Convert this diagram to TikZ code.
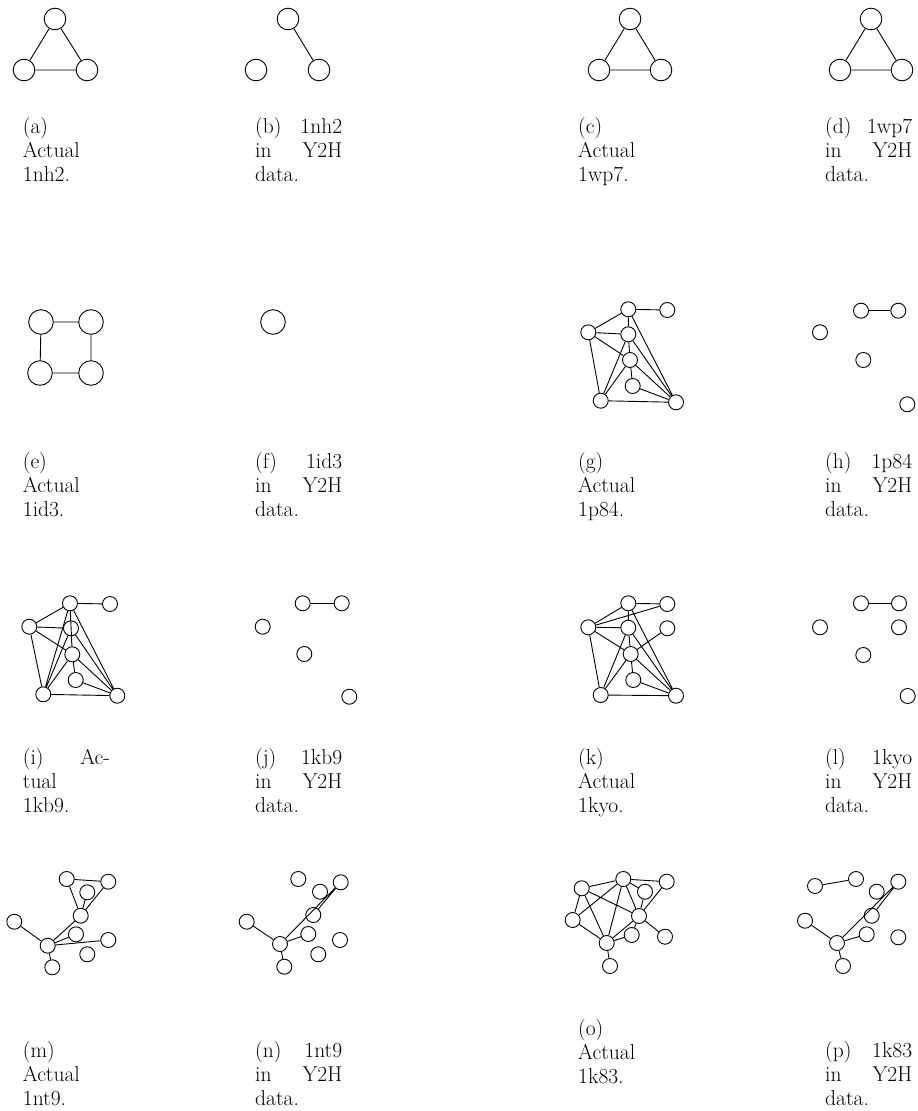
\documentclass[tikz,border=0pt]{standalone}
\begin{document}
\begin{tikzpicture}[x=1pt,y=-1pt,
  vbig/.style={circle,draw,line width=0.9pt,minimum size=21.6pt,inner sep=0pt},
  vmid/.style={circle,draw,line width=0.9pt,minimum size=24.6pt,inner sep=0pt},
  vsm/.style={circle,draw,line width=0.9pt,minimum size=15pt,inner sep=0pt},
  lnk/.style={line width=0.9pt},
  captxt/.style={anchor=base west,inner sep=0pt,font=\fontsize{21.5}{24}\selectfont}]
\useasboundingbox (0,0) rectangle (918,1111);
\newcommand{\jl}[2]{\hbox to 87pt{#1\hfill #2}}
% ---------- row 1 ----------
\node[vbig] (a1) at (55,19) {}; \node[vbig] (a2) at (24,70) {}; \node[vbig] (a3) at (87,70) {};
\draw[lnk] (a1)--(a2) (a1)--(a3) (a2)--(a3);
\node[vbig] (b1) at (288,19) {}; \node[vbig] (b2) at (256,70) {}; \node[vbig] (b3) at (319,70) {};
\draw[lnk] (b1)--(b3);
\node[vbig] (c1) at (630,19) {}; \node[vbig] (c2) at (599,70) {}; \node[vbig] (c3) at (661,70) {};
\draw[lnk] (c1)--(c2) (c1)--(c3) (c2)--(c3);
\node[vbig] (d1) at (871,19) {}; \node[vbig] (d2) at (840,70) {}; \node[vbig] (d3) at (902,70) {};
\draw[lnk] (d1)--(d2) (d1)--(d3) (d2)--(d3);
\node[captxt] (ta1) at (22.7,133) {(a)}; \node[captxt] (ta2) at (22.7,157) {Actual}; \node[captxt] (ta3) at (22.7,181) {1nh2.};
\node[captxt] (tb1) at (255,133) {\jl{(b)}{1nh2}}; \node[captxt] (tb2) at (255,157) {\jl{in}{Y2H}}; \node[captxt] (tb3) at (255,181) {data.};
\node[captxt] (tc1) at (578,133) {(c)}; \node[captxt] (tc2) at (578,157) {Actual}; \node[captxt] (tc3) at (578,181) {1wp7.};
\node[captxt] (td1) at (825,133) {\jl{(d)}{1wp7}}; \node[captxt] (td2) at (825,157) {\jl{in}{Y2H}}; \node[captxt] (td3) at (825,181) {data.};
% ---------- row 2 ----------
\node[vmid] (e1) at (41,322) {}; \node[vmid] (e2) at (91,322) {}; \node[vmid] (e3) at (40,373) {}; \node[vmid] (e4) at (91,373) {};
\draw[lnk] (e1)--(e2) (e2)--(e4) (e4)--(e3) (e3)--(e1);
\node[vmid] (f1) at (273,322) {};
\node[vsm] (gA) at (628.3,309.3) {}; \node[vsm] (gB) at (667.3,310) {}; \node[vsm] (gC) at (588.3,332.3) {};
\node[vsm] (gD) at (628.3,334.3) {}; \node[vsm] (gE) at (630,360) {}; \node[vsm] (gF) at (632.7,386) {};
\node[vsm] (gG) at (600.7,400.7) {}; \node[vsm] (gH) at (676,402.3) {};
\draw[lnk] (gA)--(gB) (gA)--(gC) (gA)--(gD) (gA)--(gH) (gC)--(gD) (gC)--(gE) (gC)--(gG)
  (gD)--(gE) (gD)--(gH) (gD)--(gG) (gE)--(gF) (gE)--(gG) (gE)--(gH) (gF)--(gH) (gG)--(gH);
\node[vsm] (h1) at (861,310.7) {}; \node[vsm] (h2) at (898.3,310.7) {}; \node[vsm] (h3) at (820,332.3) {};
\node[vsm] (h4) at (863.3,360) {}; \node[vsm] (h5) at (907.3,404.3) {};
\draw[lnk] (h1)--(h2);
\node[captxt] (te1) at (22.7,468) {(e)}; \node[captxt] (te2) at (22.7,492) {Actual}; \node[captxt] (te3) at (22.7,516) {1id3.};
\node[captxt] (tf1) at (255,468) {\jl{(f)}{1id3}}; \node[captxt] (tf2) at (255,492) {\jl{in}{Y2H}}; \node[captxt] (tf3) at (255,516) {data.};
\node[captxt] (tg1) at (578,468) {(g)}; \node[captxt] (tg2) at (578,492) {Actual}; \node[captxt] (tg3) at (578,516) {1p84.};
\node[captxt] (th1) at (825,468) {\jl{(h)}{1p84}}; \node[captxt] (th2) at (825,492) {\jl{in}{Y2H}}; \node[captxt] (th3) at (825,516) {data.};
% ---------- row 3 ----------
\node[vsm] (iA) at (70,603.3) {}; \node[vsm] (iB) at (110,604) {}; \node[vsm] (iC) at (29.3,626.7) {};
\node[vsm] (iD) at (71,628.3) {}; \node[vsm] (iE) at (72.3,654.3) {}; \node[vsm] (iF) at (75.7,680) {};
\node[vsm] (iG) at (43.3,694.3) {}; \node[vsm] (iH) at (117.3,695.7) {};
\draw[lnk] (iA)--(iB) (iA)--(iC) (iA)--(iD) (iA)--(iE) (iA)--(iG) (iA)--(iH) (iC)--(iD) (iC)--(iE) (iC)--(iG)
  (iD)--(iE) (iD)--(iH) (iD)--(iG) (iE)--(iF) (iE)--(iG) (iE)--(iH) (iF)--(iH) (iG)--(iH);
\node[vsm] (j1) at (302.7,603.3) {}; \node[vsm] (j2) at (341.7,603.3) {}; \node[vsm] (j3) at (262.7,626.7) {};
\node[vsm] (j4) at (304.3,654) {}; \node[vsm] (j5) at (349.3,696.7) {};
\draw[lnk] (j1)--(j2);
\node[vsm] (kA) at (628.3,603.3) {}; \node[vsm] (kB) at (667.3,604) {}; \node[vsm] (kC) at (588.3,627.3) {};
\node[vsm] (kD) at (628.3,627.7) {}; \node[vsm] (kI) at (667.3,628.3) {}; \node[vsm] (kE) at (630.7,654) {};
\node[vsm] (kF) at (633.3,680) {}; \node[vsm] (kG) at (600.7,695) {}; \node[vsm] (kH) at (676,695.7) {};
\draw[lnk] (kA)--(kB) (kC)--(kB) (kA)--(kC) (kA)--(kD) (kA)--(kH) (kC)--(kD) (kC)--(kE) (kC)--(kG)
  (kD)--(kE) (kD)--(kG) (kD)--(kH) (kE)--(kI) (kE)--(kG) (kE)--(kH) (kE)--(kF) (kF)--(kH) (kG)--(kH);
\node[vsm] (l1) at (861,603.3) {}; \node[vsm] (l2) at (899,603.3) {}; \node[vsm] (l3) at (820,627.3) {};
\node[vsm] (l4) at (899,627.3) {}; \node[vsm] (l5) at (863.3,655) {}; \node[vsm] (l6) at (907.7,696) {};
\draw[lnk] (l1)--(l2);
\node[captxt] (ti1) at (22.7,764) {\jl{(i)}{Ac-}}; \node[captxt] (ti2) at (22.7,788) {tual}; \node[captxt] (ti3) at (22.7,812) {1kb9.};
\node[captxt] (tj1) at (255,764) {\jl{(j)}{1kb9}}; \node[captxt] (tj2) at (255,788) {\jl{in}{Y2H}}; \node[captxt] (tj3) at (255,812) {data.};
\node[captxt] (tk1) at (578,764) {(k)}; \node[captxt] (tk2) at (578,788) {Actual}; \node[captxt] (tk3) at (578,812) {1kyo.};
\node[captxt] (tl1) at (825,764) {\jl{(l)}{1kyo}}; \node[captxt] (tl2) at (825,788) {\jl{in}{Y2H}}; \node[captxt] (tl3) at (825,812) {data.};
% ---------- row 4 ----------
\node[vsm] (m1) at (66.7,879) {}; \node[vsm] (m2) at (108.3,881.7) {}; \node[vsm] (m3) at (87.3,892.3) {};
\node[vsm] (m4) at (80.7,915.7) {}; \node[vsm] (m5) at (14.3,921.7) {}; \node[vsm] (m6) at (47.7,945.7) {};
\node[vsm] (m7) at (76,934.3) {}; \node[vsm] (m8) at (108.3,940) {}; \node[vsm] (m9) at (87.3,954.3) {};
\node[vsm] (m10) at (52.3,967.3) {};
\draw[lnk] (m1)--(m2) (m1)--(m4) (m2)--(m4) (m3)--(m4) (m4)--(m6) (m5)--(m6) (m6)--(m7)
  (m6)--(m8) (m6)--(m10);
\node[vsm] (n1) at (298.3,879) {}; \node[vsm] (n2) at (340.7,882.3) {}; \node[vsm] (n3) at (320,891.7) {};
\node[vsm] (n4) at (313.3,915) {}; \node[vsm] (n5) at (246.7,921.7) {}; \node[vsm] (n6) at (280,944) {};
\node[vsm] (n7) at (308.3,934) {}; \node[vsm] (n8) at (340,940) {}; \node[vsm] (n9) at (318.3,954.3) {};
\node[vsm] (n10) at (284.3,966.7) {};
\draw[lnk] (n2)--(n4) (n2)--(n6) (n5)--(n6) (n6)--(n7) (n6)--(n10);
\node[vsm] (o1) at (581.7,888.3) {}; \node[vsm] (o2) at (623.3,879) {}; \node[vsm] (o3) at (666.7,881.7) {};
\node[vsm] (o4) at (645,891.7) {}; \node[vsm] (o5) at (572.7,920) {}; \node[vsm] (o6) at (639,916) {};
\node[vsm] (o7) at (631.7,935) {}; \node[vsm] (o8) at (665,936.7) {}; \node[vsm] (o9) at (606.7,943) {};
\node[vsm] (o10) at (610,966) {};
\draw[lnk] (o1)--(o2) (o2)--(o3) (o1)--(o5) (o1)--(o9) (o1)--(o6) (o2)--(o5) (o2)--(o9) (o2)--(o6)
  (o2)--(o4) (o3)--(o6) (o4)--(o6) (o5)--(o9) (o6)--(o9) (o6)--(o8) (o7)--(o9) (o6)--(o7) (o9)--(o10);
\node[vsm] (p1) at (815,886) {}; \node[vsm] (p2) at (856,879) {}; \node[vsm] (p3) at (876.7,891.7) {};
\node[vsm] (p4) at (898.3,881.7) {}; \node[vsm] (p5) at (805,920.7) {}; \node[vsm] (p6) at (871.7,915.7) {};
\node[vsm] (p7) at (866.7,934.3) {}; \node[vsm] (p8) at (898.3,937.3) {}; \node[vsm] (p9) at (837,943) {};
\node[vsm] (p10) at (843,966) {};
\draw[lnk] (p1)--(p2) (p4)--(p6) (p4)--(p9) (p5)--(p9) (p9)--(p7) (p9)--(p10);
\node[captxt] (tm1) at (22.7,1057) {(m)}; \node[captxt] (tm2) at (22.7,1081) {Actual}; \node[captxt] (tm3) at (22.7,1105) {1nt9.};
\node[captxt] (tn1) at (255,1057) {\jl{(n)}{1nt9}}; \node[captxt] (tn2) at (255,1081) {\jl{in}{Y2H}}; \node[captxt] (tn3) at (255,1105) {data.};
\node[captxt] (to1) at (578,1035) {(o)}; \node[captxt] (to2) at (578,1059) {Actual}; \node[captxt] (to3) at (578,1083) {1k83.};
\node[captxt] (tp1) at (825,1057) {\jl{(p)}{1k83}}; \node[captxt] (tp2) at (825,1081) {\jl{in}{Y2H}}; \node[captxt] (tp3) at (825,1105) {data.};
\end{tikzpicture}
\end{document}
